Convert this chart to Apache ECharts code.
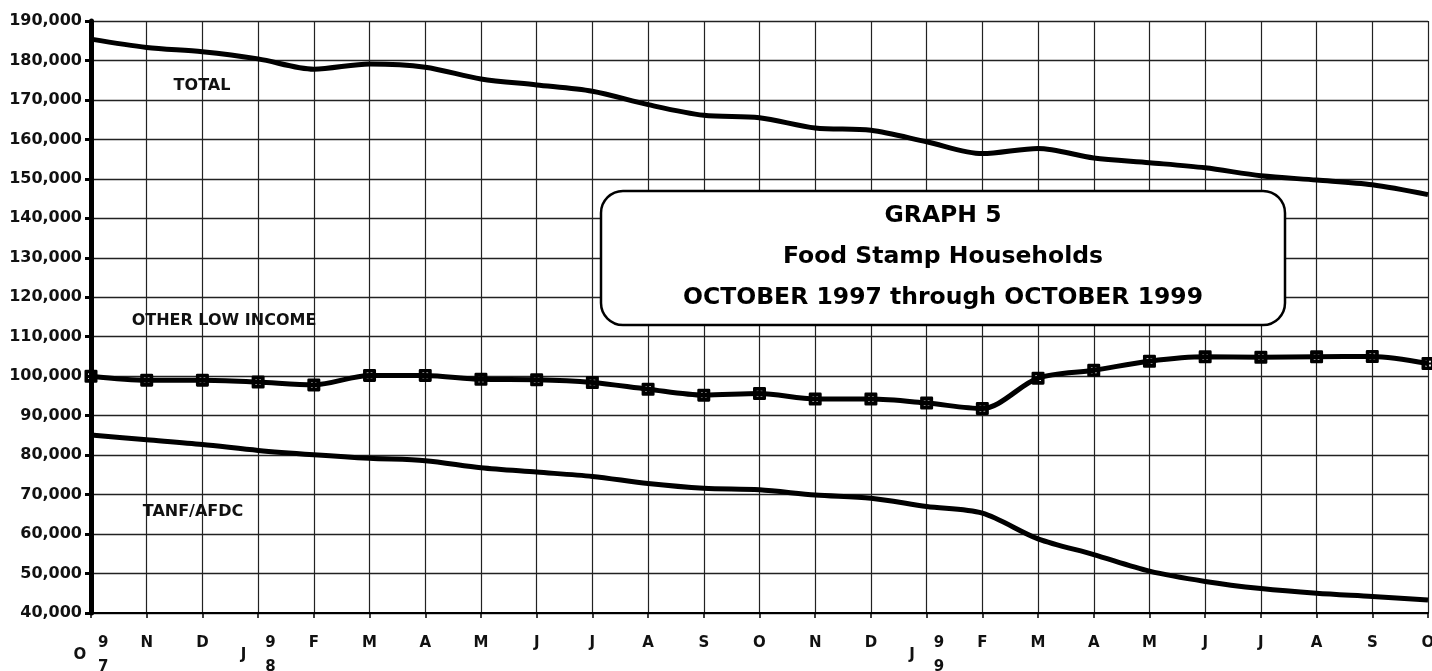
<!DOCTYPE html>
<html>
<head>
<meta charset="utf-8">
<script src="https://cdn.jsdelivr.net/npm/echarts@6/dist/echarts.min.js"></script>
<style>
  html, body { margin: 0; padding: 0; background: #fff; }
  #chart { width: 1432px; height: 671px; }
</style>
</head>
<body>
<div id="chart"></div>
<script>
// months Oct 1997 .. Oct 1999
const months = ['O','N','D','J','F','M','A','M','J','J','A','S','O','N','D','J','F','M','A','M','J','J','A','S','O'];
// year digits printed beside the first month of each year
const yearMarks = ['97','','','98','','','','','','','','','','','','99','','','','','','','','',''];

const totalHouseholds = [185400, 183300, 182200, 180400, 177800, 179100, 178300, 175300, 173800, 172200, 168800, 166100,
  165500, 162900, 162300, 159400, 156400, 157700, 155300, 154100, 152800, 150800, 149700, 148500, 146000];
const otherLowIncome = [100000, 99000, 99000, 98500, 97800, 100200, 100200, 99200, 99100, 98400, 96700, 95200,
  95600, 94200, 94200, 93200, 91800, 99500, 101500, 103800, 104900, 104800, 104900, 105000, 103200];
const tanfAfdc = [85100, 83900, 82700, 81200, 80100, 79200, 78600, 76800, 75700, 74600, 72800, 71600,
  71200, 69900, 69100, 67000, 65300, 58800, 54800, 50600, 48000, 46200, 45000, 44200, 43300];

const yMin = 40000, yMax = 190000, yStep = 10000;

const FONT = 'DejaVu Sans';

// dark rounded square with four small white dots
const dotSquare = 'path://M1 0L9 0Q10 0 10 1L10 9Q10 10 9 10L1 10Q0 10 0 9L0 1Q0 0 1 0Z' +
  'M2.8 2.8L2.8 4.2L4.2 4.2L4.2 2.8Z M5.8 2.8L5.8 4.2L7.2 4.2L7.2 2.8Z' +
  'M2.8 5.8L2.8 7.2L4.2 7.2L4.2 5.8Z M5.8 5.8L5.8 7.2L7.2 7.2L7.2 5.8Z';

function lineSeries(name, data, withMarks) {
  return {
    name: name,
    type: 'line',
    data: data,
    smooth: 0.3,
    symbol: withMarks ? dotSquare : 'none',
    symbolSize: 13,
    showSymbol: withMarks,
    lineStyle: { color: '#000', width: 5 },
    itemStyle: { color: '#000', borderWidth: 0 },
    emphasis: { disabled: true },
    z: 3
  };
}

const chart = echarts.init(document.getElementById('chart'));
chart.setOption({
  backgroundColor: '#fff',
  animation: false,
  grid: { left: 91, right: 4, top: 21, bottom: 58, outerBoundsMode: 'none' },
  xAxis: {
    type: 'category',
    data: months,
    boundaryGap: false,
    axisLine: { lineStyle: { color: '#000', width: 2 } },
    axisTick: { show: true, alignWithLabel: true, length: 5, lineStyle: { color: '#000', width: 1.5 } },
    splitLine: { show: true, lineStyle: { color: '#222', width: 1.2 } },
    axisLabel: {
      interval: 0,
      margin: 24,
      color: '#111',
      fontFamily: FONT,
      fontWeight: 'bold',
      fontSize: 15,
      lineHeight: 12,
      hideOverlap: false,
      formatter: function (val, idx) {
        const yr = yearMarks[idx];
        if (!yr) return val;
        return '{r|' + yr[0] + '}\n{l|' + val + '}\n{r|' + yr[1] + '}';
      },
      rich: {
        l: { width: 35, align: 'left', fontFamily: FONT, fontWeight: 'bold', fontSize: 15, lineHeight: 12, color: '#111' },
        r: { width: 35, align: 'right', fontFamily: FONT, fontWeight: 'bold', fontSize: 15, lineHeight: 12, color: '#111' }
      }
    }
  },
  yAxis: {
    type: 'value',
    min: yMin,
    max: yMax,
    interval: yStep,
    axisLine: { show: true, lineStyle: { color: '#000', width: 5 } },
    axisTick: { show: true, length: 6, lineStyle: { color: '#000', width: 3 } },
    splitLine: { show: true, lineStyle: { color: '#222', width: 1.3 } },
    axisLabel: {
      margin: 9,
      color: '#111',
      fontFamily: FONT,
      fontWeight: 'bold',
      fontSize: 16,
      formatter: function (v) { return v.toLocaleString('en-US'); }
    }
  },
  series: [
    lineSeries('TOTAL', totalHouseholds, false),
    lineSeries('OTHER LOW INCOME', otherLowIncome, true),
    lineSeries('TANF/AFDC', tanfAfdc, false)
  ],
  graphic: [
    {
      type: 'rect', z: 100,
      shape: { x: 601, y: 191, width: 684, height: 134, r: 22 },
      style: { fill: '#fff', stroke: '#000', lineWidth: 2.5 }
    },
    {
      type: 'text', z: 101, x: 943, y: 216,
      style: { text: 'GRAPH 5', font: 'bold 23.5px "DejaVu Sans"', fill: '#000', align: 'center', verticalAlign: 'middle' }
    },
    {
      type: 'text', z: 101, x: 943, y: 257,
      style: { text: 'Food Stamp Households', font: 'bold 23.5px "DejaVu Sans"', fill: '#000', align: 'center', verticalAlign: 'middle' }
    },
    {
      type: 'text', z: 101, x: 943, y: 298,
      style: { text: 'OCTOBER 1997 through OCTOBER 1999', font: 'bold 23.5px "DejaVu Sans"', fill: '#000', align: 'center', verticalAlign: 'middle' }
    },
    {
      type: 'text', z: 101, x: 202, y: 86,
      style: { text: 'TOTAL', font: 'bold 16px "DejaVu Sans"', fill: '#111', align: 'center', verticalAlign: 'middle' }
    },
    {
      type: 'text', z: 101, x: 224, y: 321,
      style: { text: 'OTHER LOW INCOME', font: 'bold 16px "DejaVu Sans"', fill: '#111', align: 'center', verticalAlign: 'middle' }
    },
    {
      type: 'text', z: 101, x: 193, y: 512,
      style: { text: 'TANF/AFDC', font: 'bold 16px "DejaVu Sans"', fill: '#111', align: 'center', verticalAlign: 'middle' }
    }
  ]
});
</script>
</body>
</html>
